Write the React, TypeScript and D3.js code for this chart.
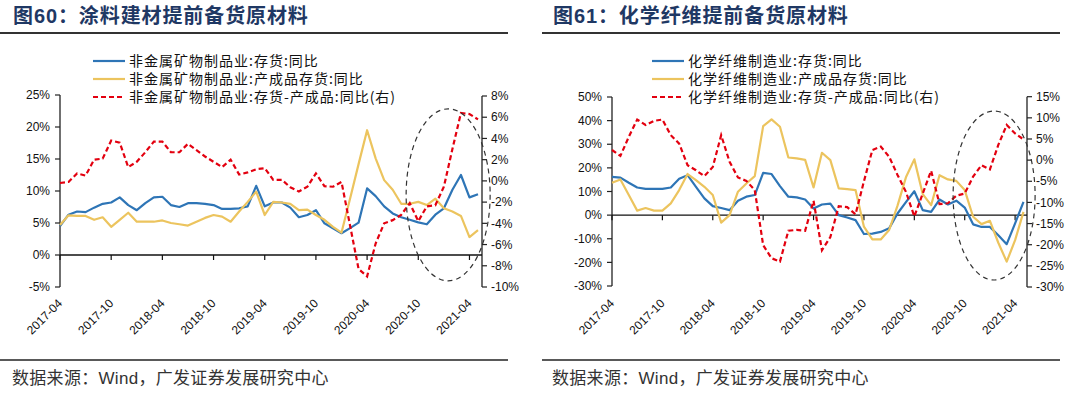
import React from 'react';
import * as d3 from 'd3';

// Monthly categories 2017-04 .. 2021-05
const categories: string[] = d3.timeMonth
  .range(new Date(2017, 3, 1), new Date(2021, 5, 1))
  .map((d) => d3.timeFormat('%Y-%m')(d));

const xTickLabels = ['2017-04', '2017-10', '2018-04', '2018-10', '2019-04', '2019-10', '2020-04', '2020-10', '2021-04'];

// ---- Figure 60: 非金属矿物制品业 ----
const nmInventory = [
  4.5, 6.3, 6.8, 6.7, 7.4, 8.0, 8.2, 9.0, 7.8, 7.0,
  8.1, 9.0, 9.1, 7.8, 7.5, 8.1, 8.1, 8.0, 7.8, 7.2,
  7.2, 7.3, 7.6, 10.8, 7.6, 8.2, 8.2, 7.4, 5.9, 6.25,
  7.0, 4.95, 4.17, 3.4, 4.2, 5.05, 10.4, 9.2, 7.6, 6.5,
  5.9, 5.5, 5.1, 4.8, 6.3, 7.3, 10.2, 12.5, 9.0, 9.5,
];
const nmFinished = [
  4.7, 6.2, 6.1, 6.1, 5.5, 5.9, 4.4, 5.5, 6.6, 5.2,
  5.2, 5.2, 5.4, 5.0, 4.8, 4.6, 5.2, 5.8, 6.25, 6.0,
  5.2, 6.8, 8.3, 9.9, 6.25, 8.3, 8.2, 8.0, 7.0, 7.1,
  6.25, 5.5, 4.4, 3.5, 8.8, 14.2, 19.5, 15.1, 11.7, 10.2,
  8.0, 8.0, 8.3, 7.8, 8.8, 7.3, 6.8, 6.1, 2.8, 3.9,
];
const nmGap = [
  -0.2, -0.1, 0.7, 0.5, 2.0, 2.1, 3.8, 3.6, 1.3, 1.8,
  2.7, 3.7, 3.7, 2.7, 2.7, 3.5, 2.9, 2.3, 1.8, 1.3,
  2.0, 0.6, 0.8, 1.1, 1.2, 0.1, 0.1, -0.6, -1.0, -0.55,
  0.7, -0.5, -0.55, -0.1, -4.2, -8.3, -9.0, -5.9, -4.0, -3.7,
  -3.2, -2.1, -3.8, -2.4, -2.3, -0.55, 3.0, 6.4, 6.3, 5.8,
];
const nmLeftTicks = [25, 20, 15, 10, 5, 0, -5];
const nmRightTicks = [8, 6, 4, 2, 0, -2, -4, -6, -8, -10];

// ---- Figure 61: 化学纤维制造业 ----
const cfInventory = [
  16.2, 15.9, 13.7, 11.7, 11.1, 11.1, 11.1, 11.7, 15.4, 16.9,
  12.0, 7.1, 3.8, 3.0, 2.1, 6.1, 7.8, 8.5, 17.9, 17.4,
  12.3, 7.8, 7.5, 6.6, 2.8, 4.5, 4.9, 0, -1.0, -2.1,
  -8.0, -7.8, -7.1, -5.6, 0.7, 5.5, 10.1, 2.1, 1.4, 6.6,
  4.5, 6.1, 3.2, -3.9, -5.0, -5.0, -8.5, -12.3, -3.5, 5.6,
];
const cfFinished = [
  13.7, 15.1, 8.5, 1.9, 3.0, 1.9, 1.9, 5.0, 10.6, 17.4,
  14.8, 12.0, 8.5, -3.2, 0, 9.9, 13.4, 16.5, 37.7, 40.5,
  37.4, 24.4, 24.0, 23.4, 11.7, 26.4, 23.3, 11.3, 11.0, 10.6,
  -4.9, -10.3, -10.3, -6.3, 4.0, 16.0, 23.6, 8.9, 4.2, 16.9,
  15.1, 14.5, 10.6, -0.7, -3.8, -2.4, -11.7, -19.7, -10.6, 1.4,
];
const cfGap = [
  2.4, 1.0, 5.5, 9.6, 8.3, 9.3, 9.6, 5.9, 3.9, -1.2,
  -2.4, -3.8, -1.6, 5.9, -0.4, -4.1, -4.9, -7.1, -20.1, -23.2,
  -24.0, -16.7, -16.5, -16.7, -9.6, -21.3, -18.2, -10.9, -11.1, -12.8,
  -5.0, 2.4, 3.2, 0.8, -3.5, -7.5, -13.3, -7.9, -2.5, -10.4,
  -10.2, -8.4, -7.9, -3.9, -1.2, -2.2, 3.6, 8.3, 6.3, 4.9,
];
const cfLeftTicks = [50, 40, 30, 20, 10, 0, -10, -20, -30];
const cfRightTicks = [15, 10, 5, 0, -5, -10, -15, -20, -25, -30];

const BLUE = '#2E75B6';
const YELLOW = '#ECC45E';
const RED = '#E3000F';
const TITLE = '#1F3864';
const CJK = '"Noto Sans CJK SC", "Noto Sans", sans-serif';
const LAT = '"Liberation Sans", Arial, sans-serif';

type PanelCfg = {
  ox: number;
  titleNum: string;
  titleText: string;
  legend: string[];
  inv: number[];
  fin: number[];
  gap: number[];
  leftTicks: number[];
  rightTicks: number[];
  xRange: [number, number];
  axisEnd: number;
  leftRange: [number, number];
  rightRange: [number, number];
  legendX: number;
  ellipse: { val: number; rx: number; ry: number };
};

function Panel({ c }: { c: PanelCfg }) {
  const x = d3.scalePoint<string>().domain(categories).range(c.xRange).padding(0);
  const lt = c.leftTicks;
  const rt = c.rightTicks;
  const yL = d3.scaleLinear().domain([lt[lt.length - 1], lt[0]]).range(c.leftRange);
  const yR = d3.scaleLinear().domain([rt[rt.length - 1], rt[0]]).range(c.rightRange);
  const axL = c.xRange[0];
  const axR = c.axisEnd;
  const y0 = yL(0);
  const lineL = d3.line<number>().x((_, i) => x(categories[i]) as number).y((d) => yL(d));
  const lineR = d3.line<number>().x((_, i) => x(categories[i]) as number).y((d) => yR(d));
  const ecx = ((x(categories[45]) as number) + (x(categories[46]) as number)) / 2;
  const ecy = yL(c.ellipse.val);
  const legendRows = [61, 79, 97];
  const legendStyles = [
    { stroke: BLUE, dash: undefined as string | undefined },
    { stroke: YELLOW, dash: undefined },
    { stroke: RED, dash: '5,3' },
  ];
  const ruleX1 = c.ox + (c.ox ? 2 : 0);
  const ruleX2 = c.ox + 508 + (c.ox ? 12 : 0);
  return (
    <g>
      {/* title */}
      <text x={c.ox + 13} y={23} fontSize={20} fontWeight="bold" fill={TITLE} fontFamily={CJK} letterSpacing={0.9}>
        图<tspan fontFamily={LAT}>{c.titleNum}</tspan>：{c.titleText}
      </text>
      <line x1={ruleX1} x2={ruleX2} y1={33} y2={33} stroke="#333" strokeWidth={2} />
      {/* legend */}
      {c.legend.map((t, i) => (
        <g key={t}>
          <line x1={c.legendX} x2={c.legendX + 32} y1={legendRows[i]} y2={legendRows[i]} stroke={legendStyles[i].stroke}
            strokeWidth={2.2} strokeDasharray={legendStyles[i].dash} />
          <text x={c.legendX + 36} y={legendRows[i]} dy="0.36em" fontSize={14} letterSpacing={1} fontFamily={CJK} fill="#111">{t}</text>
        </g>
      ))}
      {/* left axis */}
      <line x1={axL} x2={axL} y1={yL(lt[0])} y2={yL(lt[lt.length - 1])} stroke="#222" strokeWidth={1.3} />
      {lt.map((v) => (
        <g key={'l' + v}>
          <line x1={axL - 5} x2={axL} y1={yL(v)} y2={yL(v)} stroke="#222" strokeWidth={1.2} />
          <text x={axL - 10} y={yL(v)} dy="0.35em" textAnchor="end" fontSize={12} fontFamily={LAT} fill="#111">{v}%</text>
        </g>
      ))}
      {/* right axis */}
      <line x1={axR} x2={axR} y1={yR(rt[0])} y2={yR(rt[rt.length - 1])} stroke="#222" strokeWidth={1.3} />
      {rt.map((v) => (
        <g key={'r' + v}>
          <line x1={axR} x2={axR + 5} y1={yR(v)} y2={yR(v)} stroke="#222" strokeWidth={1.2} />
          <text x={axR + 9} y={yR(v)} dy="0.35em" textAnchor="start" fontSize={12} fontFamily={LAT} fill="#111">{v}%</text>
        </g>
      ))}
      {/* x axis */}
      <line x1={axL} x2={axR} y1={y0} y2={y0} stroke="#111" strokeWidth={1.3} />
      {xTickLabels.map((lab) => {
        const tx = x(lab) as number;
        return (
          <g key={lab}>
            <line x1={tx} x2={tx} y1={y0} y2={y0 + 5} stroke="#111" strokeWidth={1.2} />
            <text transform={`translate(${tx + 3},304) rotate(-45)`} textAnchor="end" fontSize={12} fontFamily={LAT} fill="#111">{lab}</text>
          </g>
        );
      })}
      {/* series */}
      <path d={lineL(c.inv) as string} fill="none" stroke={BLUE} strokeWidth={2.2} strokeLinejoin="round" />
      <path d={lineL(c.fin) as string} fill="none" stroke={YELLOW} strokeWidth={2.2} strokeLinejoin="round" />
      <path d={lineR(c.gap) as string} fill="none" stroke={RED} strokeWidth={2.2} strokeDasharray="5,3" />
      {/* annotation ellipse */}
      <ellipse cx={ecx} cy={ecy} rx={c.ellipse.rx} ry={c.ellipse.ry} fill="none" stroke="#333" strokeWidth={1.2} strokeDasharray="5,4" />
      {/* footer */}
      <line x1={ruleX1} x2={ruleX2} y1={360} y2={360} stroke="#222" strokeWidth={1.6} />
      <text x={c.ox + 12} y={384} fontSize={17} fontFamily={CJK} fill="#333" letterSpacing={0.3}>
        数据来源：<tspan fontFamily={LAT}>Wind</tspan>，广发证券发展研究中心
      </text>
    </g>
  );
}

const panels: PanelCfg[] = [
  {
    ox: 0,
    titleNum: '60',
    titleText: '涂料建材提前备货原材料',
    legend: ['非金属矿物制品业:存货:同比', '非金属矿物制品业:产成品存货:同比', '非金属矿物制品业:存货-产成品:同比(右)'],
    inv: nmInventory,
    fin: nmFinished,
    gap: nmGap,
    leftTicks: nmLeftTicks,
    rightTicks: nmRightTicks,
    xRange: [60, 478],
    axisEnd: 482,
    leftRange: [287, 95],
    rightRange: [287, 96],
    legendX: 93,
    ellipse: { val: 9.4, rx: 42, ry: 86 },
  },
  {
    ox: 540,
    titleNum: '61',
    titleText: '化学纤维提前备货原材料',
    legend: ['化学纤维制造业:存货:同比', '化学纤维制造业:产成品存货:同比', '化学纤维制造业:存货-产成品:同比(右)'],
    inv: cfInventory,
    fin: cfFinished,
    gap: cfGap,
    leftTicks: cfLeftTicks,
    rightTicks: cfRightTicks,
    xRange: [612, 1023.5],
    axisEnd: 1027,
    leftRange: [286, 97],
    rightRange: [287, 96.7],
    legendX: 652,
    ellipse: { val: 8.3, rx: 41, ry: 84.5 },
  },
];

export default function App() {
  return (
    <svg width={1080} height={393} viewBox="0 0 1080 393"
      style={{ position: 'absolute', left: 0, top: 0, background: '#fff', display: 'block' }}>
      <rect x={0} y={0} width={1080} height={393} fill="#fff" />
      {panels.map((p) => (
        <Panel key={p.titleNum} c={p} />
      ))}
    </svg>
  );
}
